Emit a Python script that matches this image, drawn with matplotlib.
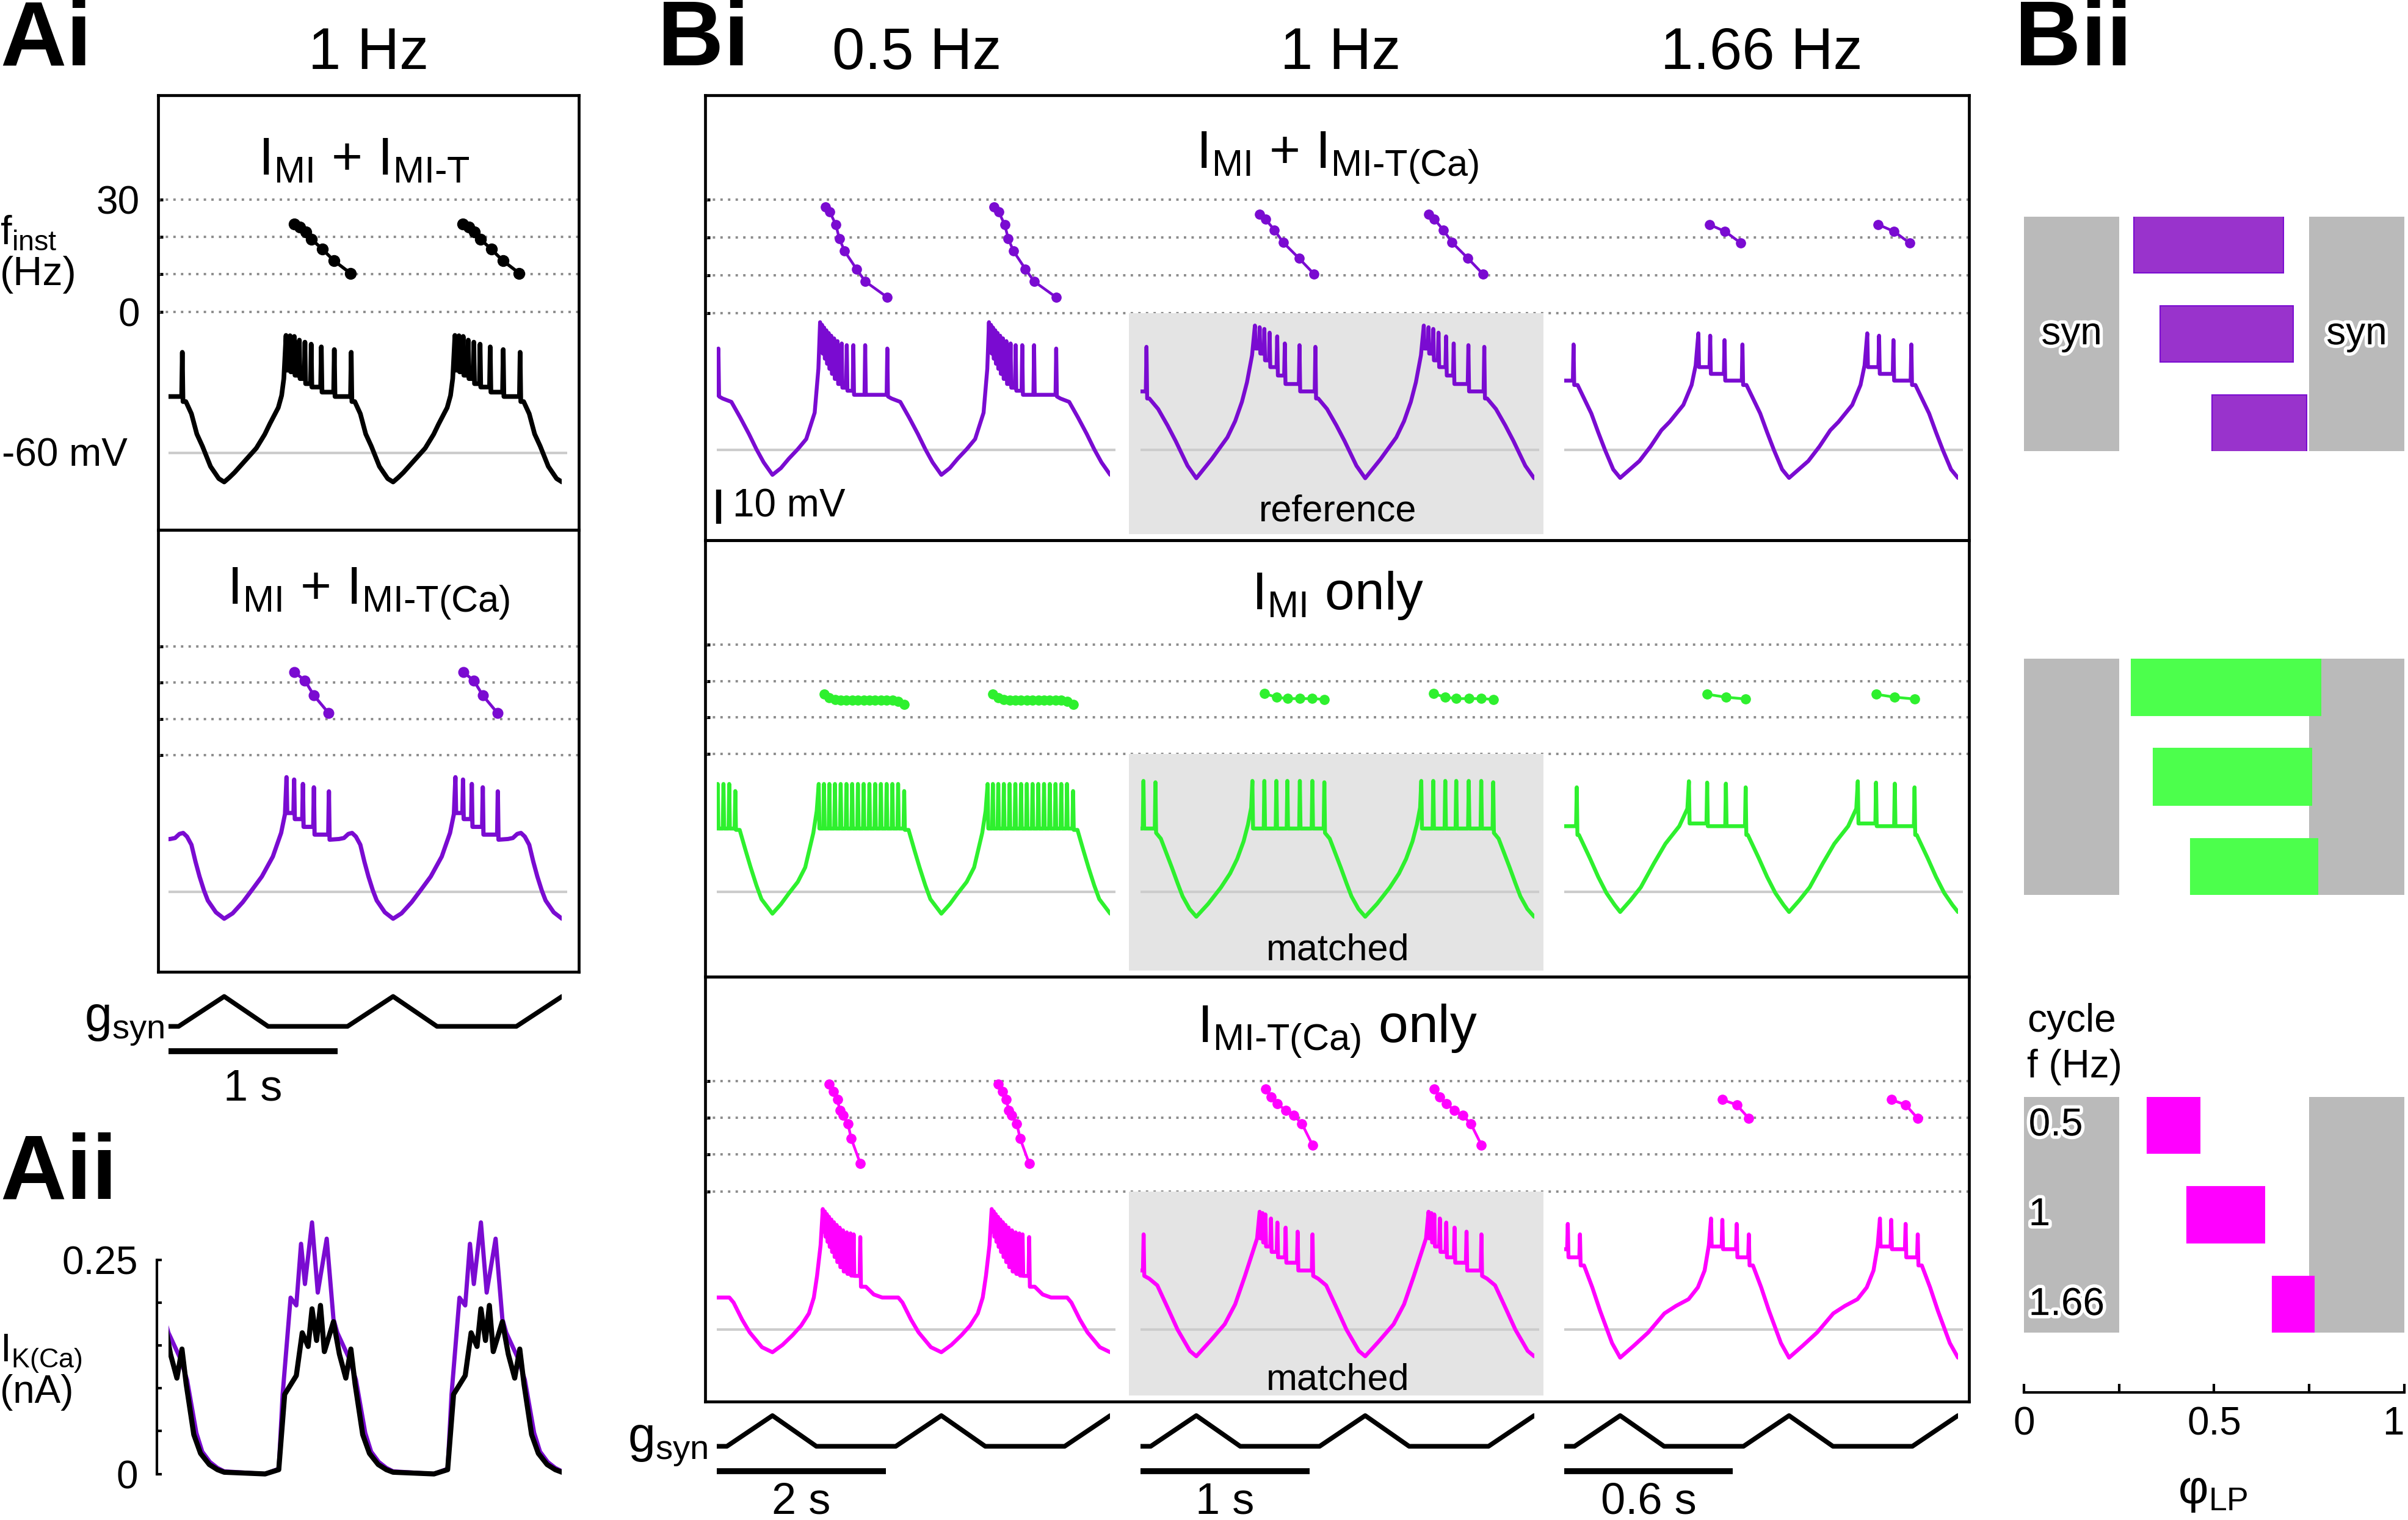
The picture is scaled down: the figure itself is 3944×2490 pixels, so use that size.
#!/usr/bin/env python3
"""LP model bursts: I_MI vs I_MI-T(Ca) at different cycle frequencies."""

import matplotlib
matplotlib.use("Agg")
import matplotlib.pyplot as plt
import matplotlib.patheffects as pe
from matplotlib.patches import Rectangle

plt.rcParams['font.family'] = ['Liberation Sans', 'DejaVu Sans']
plt.rcParams['mathtext.fontset'] = 'custom'
plt.rcParams['mathtext.rm'] = 'Liberation Sans'
plt.rcParams['mathtext.it'] = 'Liberation Sans:italic'
plt.rcParams['mathtext.bf'] = 'Liberation Sans:bold'

# ---------------------------------------------------------------------------
# Data. Phase 0 = voltage trough (= g_syn peak), one
# cycle runs 0..1. Voltage in mV, f_inst in Hz, I_K(Ca) in nA.
# Burst entries are (phase, spike peak, after-hyperpolarisation).
# ---------------------------------------------------------------------------
FREQS = [0.5, 1.0, 1.66]
FREQ_LABELS = ['0.5 Hz', '1 Hz', '1.66 Hz']
SCALE_SEC = [2.0, 1.0, 0.6]
SCALE_LABELS = ['2 s', '1 s', '0.6 s']
F_GRID = [0, 10, 20, 30]

GSYN_CYCLE = [(0.0, 1.0), (0.26, 0.0), (0.73, 0.0)]

# Ai top: I_MI + I_MI-T (black), 1 Hz
AI_T_WAVE = [(0.0, -68.6), (0.03, -67.3), (0.061, -65.8), (0.12, -62.5), (0.19, -58.6),
             (0.24, -54.5), (0.27, -51.4), (0.3, -48.5), (0.32, -46.6), (0.34, -43.0),
             (0.353, -38.0), (0.773, -44.8), (0.806, -48.4), (0.838, -54.4), (0.871, -58.0),
             (0.919, -64.0), (0.968, -67.6)]
AI_T_BURST = [(0.366, -25.2, -35.5), (0.39, -25.3, -36.0), (0.415, -25.5, -37.0),
              (0.445, -26.6, -38.0), (0.478, -27.2, -39.5), (0.515, -27.8, -40.5),
              (0.575, -28.6, -42.0), (0.652, -29.4, -43.3), (0.752, -30.2, -44.8)]
AI_T_FINST = [(0.414, 23.5), (0.448, 22.6), (0.483, 21.4), (0.517, 19.4),
              (0.582, 16.7), (0.651, 13.6), (0.747, 10.3)]

# Ai bottom: I_MI + I_MI-T(Ca) (purple), 1 Hz
AI_CA_WAVE = [(0.0, -67.9), (0.05, -66.3), (0.11, -63.0), (0.17, -59.0), (0.223, -55.4),
              (0.288, -49.5), (0.337, -42.5), (0.36, -36.9), (0.68, -44.3), (0.709, -44.0),
              (0.735, -42.8), (0.757, -42.5), (0.78, -43.6), (0.806, -46.0), (0.83, -51.0),
              (0.854, -55.4), (0.88, -59.5), (0.903, -62.5), (0.951, -66.0)]
AI_CA_BURST = [(0.369, -26.0, -36.6), (0.414, -26.7, -38.4), (0.466, -28.0, -40.7),
               (0.531, -29.0, -43.0), (0.62, -30.2, -44.5)]
AI_CA_FINST = [(0.416, 22.9), (0.478, 20.6), (0.531, 16.5), (0.619, 11.6)]

# Bi row 1: I_MI + I_MI-T(Ca), for 0.5 / 1 / 1.66 Hz
CA_WAVES = [
    [(0.0, -67.4), (0.05, -65.4), (0.097, -62.6), (0.15, -59.8), (0.2, -56.8), (0.25, -49.0),
     (0.272, -36.0), (0.705, -44.8), (0.757, -45.8), (0.81, -50.5), (0.861, -55.3),
     (0.905, -59.8), (0.948, -63.7)],
    [(0.0, -68.4), (0.09, -62.8), (0.184, -56.3), (0.23, -51.5), (0.27, -45.8), (0.3, -40.0),
     (0.33, -32.0), (0.722, -44.8), (0.774, -47.9), (0.83, -52.8), (0.878, -57.4),
     (0.948, -64.7)],
    [(0.0, -68.3), (0.114, -63.3), (0.18, -59.0), (0.244, -54.2), (0.293, -51.7), (0.374, -46.7),
     (0.423, -40.8), (0.447, -35.0), (0.748, -40.8), (0.829, -49.2), (0.87, -54.8),
     (0.91, -60.0), (0.959, -65.8)],
]
CA_BURSTS = [
    [(0.282, -22.2, -30.0), (0.294, -23.0, -31.5), (0.306, -23.8, -33.0), (0.319, -24.6, -34.5),
     (0.333, -25.4, -36.0), (0.348, -26.2, -37.5), (0.365, -27.0, -39.0), (0.385, -27.8, -40.5),
     (0.41, -28.5, -41.6), (0.44, -29.0, -42.5), (0.479, -29.0, -43.7), (0.549, -29.0, -43.7),
     (0.68, -30.0, -44.2)],
    [(0.347, -23.2, -30.0), (0.375, -23.7, -31.5), (0.403, -24.2, -33.5), (0.434, -25.3, -35.5),
     (0.479, -26.4, -38.0), (0.524, -28.5, -40.5), (0.611, -29.0, -42.7), (0.705, -29.5, -44.8)],
    [(0.463, -25.5, -35.5), (0.533, -26.2, -37.5), (0.618, -27.5, -39.5), (0.724, -28.8, -40.8)],
]
CA_FINST = [
    [(0.313, 28.1), (0.34, 26.7), (0.375, 23.4), (0.396, 19.7), (0.427, 16.4),
     (0.497, 11.7), (0.549, 8.4), (0.68, 4.2)],
    [(0.375, 26.2), (0.41, 24.8), (0.462, 22.0), (0.514, 18.7), (0.608, 14.5), (0.698, 10.3)],
    [(0.528, 23.4), (0.621, 21.6), (0.715, 18.5)],
]

# Bi row 2: I_MI only (green)
MI_WAVES = [
    [(0.0, -66.4), (0.05, -63.6), (0.097, -60.4), (0.15, -57.0), (0.194, -52.7), (0.242, -42.5),
     (0.262, -36.0), (0.806, -41.6), (0.84, -47.5), (0.871, -52.7), (0.905, -58.0),
     (0.935, -62.1)],
    [(0.0, -67.3), (0.07, -63.5), (0.145, -58.7), (0.2, -54.5), (0.242, -50.2), (0.28, -45.0),
     (0.306, -40.0), (0.325, -35.0), (0.79, -44.2), (0.825, -48.8), (0.855, -52.7),
     (0.89, -57.5), (0.919, -61.3), (0.96, -65.0)],
    [(0.0, -65.9), (0.06, -62.5), (0.122, -58.6), (0.2, -51.5), (0.268, -45.7), (0.35, -40.5),
     (0.398, -35.3), (0.756, -43.1), (0.821, -50.0), (0.87, -55.5), (0.919, -60.3),
     (0.967, -63.8)],
]
MI_BURSTS = [
    [(0.274, -28.0, -41.2), (0.305, -28.0, -41.2), (0.337, -28.0, -41.2), (0.37, -28.0, -41.2),
     (0.404, -28.0, -41.2), (0.438, -28.0, -41.2), (0.472, -28.0, -41.2), (0.506, -28.0, -41.2),
     (0.54, -28.0, -41.2), (0.574, -28.0, -41.2), (0.608, -28.0, -41.2), (0.642, -28.0, -41.2),
     (0.676, -28.0, -41.2), (0.71, -28.0, -41.2), (0.744, -28.0, -41.2), (0.78, -30.1, -41.6)],
    [(0.332, -27.1, -41.2), (0.403, -27.1, -41.2), (0.474, -27.1, -41.2), (0.539, -27.1, -41.2),
     (0.613, -27.1, -41.2), (0.687, -27.1, -41.2), (0.758, -27.5, -42.5)],
    [(0.407, -27.2, -39.7), (0.515, -27.6, -40.5), (0.626, -27.9, -40.5), (0.743, -29.0, -43.1)],
]
MI_FINST = [
    [(0.305, 16.4), (0.337, 15.4), (0.37, 15.0), (0.404, 14.8), (0.438, 14.7), (0.472, 14.7),
     (0.506, 14.7), (0.54, 14.7), (0.574, 14.7), (0.608, 14.7), (0.642, 14.7), (0.676, 14.7),
     (0.71, 14.7), (0.744, 14.5), (0.78, 13.6)],
    [(0.403, 16.6), (0.474, 15.6), (0.539, 15.2), (0.613, 15.2), (0.687, 15.2), (0.758, 15.0)],
    [(0.515, 16.4), (0.626, 15.6), (0.743, 15.1)],
]

# Bi row 3: I_MI-T(Ca) only (magenta)
T_WAVES = [
    [(0.0, -66.7), (0.06, -64.5), (0.12, -61.6), (0.17, -58.8), (0.216, -55.2), (0.245, -50.5),
     (0.264, -44.1), (0.285, -35.0), (0.553, -47.3), (0.6, -49.6), (0.65, -50.5),
     (0.745, -50.5), (0.77, -52.0), (0.82, -57.0), (0.865, -60.8), (0.938, -65.2)],
    [(0.0, -67.9), (0.08, -63.5), (0.168, -58.4), (0.23, -52.5), (0.288, -44.1), (0.36, -33.0),
     (0.721, -44.9), (0.769, -46.9), (0.83, -53.5), (0.889, -60.0), (0.962, -66.3)],
    [(0.0, -68.3), (0.08, -64.8), (0.167, -60.8), (0.262, -55.2), (0.33, -53.0), (0.405, -51.0),
     (0.46, -47.5), (0.5, -42.5), (0.525, -35.0), (0.786, -41.0), (0.835, -47.5),
     (0.881, -54.4), (0.952, -64.0)],
]
T_BURSTS = [
    [(0.298, -24.3, -31.0), (0.31, -25.0, -32.5), (0.322, -25.8, -34.0), (0.335, -26.6, -35.5),
     (0.349, -27.4, -37.0), (0.364, -28.2, -38.5), (0.38, -29.0, -40.0), (0.398, -29.8, -41.5),
     (0.418, -30.6, -42.8), (0.44, -31.2, -43.5), (0.462, -31.5, -44.0), (0.481, -31.8, -44.1),
     (0.52, -32.6, -47.3)],
    [(0.375, -25.1, -33.0), (0.392, -25.5, -34.2), (0.409, -25.9, -35.4), (0.442, -27.1, -37.0),
     (0.48, -28.3, -38.6), (0.529, -29.8, -40.2), (0.6, -31.0, -42.5), (0.688, -31.8, -44.1)],
    [(0.538, -27.1, -35.4), (0.605, -27.5, -36.2), (0.69, -28.7, -38.6), (0.762, -31.8, -41.0)],
]
T_FINST = [
    [(0.337, 29.1), (0.361, 27.1), (0.385, 24.9), (0.399, 22.0), (0.418, 20.6),
     (0.447, 18.4), (0.466, 14.4), (0.52, 7.6)],
    [(0.409, 27.8), (0.442, 25.6), (0.48, 23.8), (0.529, 22.0), (0.577, 20.6),
     (0.625, 18.4), (0.688, 12.6)],
    [(0.605, 24.9), (0.69, 23.5), (0.762, 19.8)],
]

# Aii: I_K(Ca) over one cycle
AII_CA = [(0.0, 0.003), (0.242, 0.0), (0.323, 0.006), (0.346, 0.093), (0.393, 0.206),
          (0.427, 0.197), (0.455, 0.269), (0.478, 0.222), (0.52, 0.294), (0.554, 0.212),
          (0.607, 0.275), (0.647, 0.181), (0.67, 0.165), (0.74, 0.135), (0.78, 0.11),
          (0.835, 0.048), (0.87, 0.026), (0.915, 0.014), (0.96, 0.007)]
AII_T = [(0.0, 0.002), (0.242, 0.0), (0.323, 0.005), (0.358, 0.093), (0.427, 0.115),
         (0.462, 0.165), (0.497, 0.149), (0.52, 0.193), (0.547, 0.156), (0.57, 0.197),
         (0.593, 0.143), (0.647, 0.178), (0.682, 0.14), (0.72, 0.112), (0.75, 0.146),
         (0.775, 0.105), (0.82, 0.046), (0.86, 0.024), (0.912, 0.011), (0.96, 0.005)]

# Bii: burst phase (start, end) for 0.5 / 1 / 1.66 Hz
SYN_ON = [(0.0, 0.25), (0.75, 1.0)]
BII_CA = [(0.289, 0.682), (0.358, 0.708), (0.494, 0.743)]
BII_MI = [(0.283, 0.781), (0.341, 0.756), (0.438, 0.772)]
BII_T = [(0.325, 0.463), (0.428, 0.632), (0.653, 0.762)]
BII_FREQ_LABELS = ['0.5', '1', '1.66']

# ---------------------------------------------------------------------------
# colours / layout (layout in 1568 x 990 reference units)
# ---------------------------------------------------------------------------
PURPLE = '#7a0bd1'
GREEN = '#2ef02e'
MAGENTA = '#ff00ff'
SHADE = '#e4e4e4'
SYN_GRAY = '#bababa'
BAR_PURPLE = '#9933cc'
BAR_GREEN = '#4cff4c'
DOT_GRID = '#8c8c8c'
BASE_GRAY = '#cccccc'

W, H = 1568.0, 990.0
COL_W = 270
X_LO, X_HI = -0.4, 2.055
T_START, T_END = -0.33, 2.0
PX_PER_MV = 2.2
SPIKE_HW = 0.004

fig = plt.figure(figsize=(39.44, 24.90), dpi=100)


def ax_at(x0, y0, x1, y1):
    return fig.add_axes([x0 / W, 1 - y1 / H, (x1 - x0) / W, (y1 - y0) / H])


def label(x, y, s, size, **kw):
    kw.setdefault('ha', 'center')
    kw.setdefault('va', 'center')
    return fig.text(x / W, 1 - y / H, s, fontsize=size, **kw)


def bare(ax, face='none'):
    ax.set_facecolor(face)
    ax.set_xticks([])
    ax.set_yticks([])
    for s in ax.spines.values():
        s.set_visible(False)


def tiled(cycle, ks=(-1, 0, 1, 2)):
    pts = sorted((p + k, v) for k in ks for p, v in cycle)
    return [p for p, _ in pts], [v for _, v in pts]


def cycle_vertices(wave, burst):
    pts = list(wave)
    for i, (p, peak, ahp) in enumerate(burst):
        if i:
            pts.append((p - SPIKE_HW, burst[i - 1][2]))
        pts.append((p, peak))
        pts.append((p + SPIKE_HW, ahp))
    return pts


def clip_to_trace(ax, artist):
    artist.set_clip_path(Rectangle((T_START, -1e3), T_END - T_START, 2e3,
                                   transform=ax.transData))


def draw_cell(x0, f30, f0, base, bottom, wave, burst, finst, color, lw, ms, shade=False):
    axf = ax_at(x0, f30, x0 + COL_W, f0)
    bare(axf)
    axf.set_xlim(X_LO, X_HI)
    axf.set_ylim(0, 30)
    for k in (0, 1):
        axf.plot([p + k for p, _ in finst], [f for _, f in finst], '-o', color=color,
                 lw=lw * 0.7, ms=ms, clip_on=False, zorder=3)
    y_bot = bottom - 4
    axv = ax_at(x0, f0, x0 + COL_W, y_bot)
    bare(axv, SHADE if shade else 'none')
    axv.set_xlim(X_LO, X_HI)
    axv.set_ylim(-60 - (y_bot - base) / PX_PER_MV, -60 + (base - f0) / PX_PER_MV)
    axv.hlines(-60, T_START, T_END + 0.03, color=BASE_GRAY, lw=3, zorder=1)
    x, y = tiled(cycle_vertices(wave, burst))
    line, = axv.plot(x, y, color=color, lw=lw, zorder=3)
    clip_to_trace(axv, line)
    return axv


def draw_grid(x0, x1, f30, f0, labels=False):
    ax = ax_at(x0, f30, x1, f0)
    ax.set_facecolor('none')
    for s in ax.spines.values():
        s.set_visible(False)
    ax.set_xlim(0, 1)
    ax.set_ylim(0, 30)
    ax.set_xticks([])
    ax.set_yticks(F_GRID)
    ax.set_yticklabels(['0', '', '', '30'] if labels else ['', '', '', ''])
    ax.tick_params(axis='y', direction='in', length=6, width=3.5, labelsize=46, pad=22)
    for f in F_GRID:
        ax.axhline(f, color=DOT_GRID, lw=2.8, ls=(0, (1, 2.2)), clip_on=False)


def draw_frame(x0, x1, top, bottom):
    ax = ax_at(x0, top, x1, bottom)
    ax.set_facecolor('none')
    ax.set_xticks([])
    ax.set_yticks([])
    for s in ax.spines.values():
        s.set_linewidth(3.4)


def draw_gsyn(x0, y_peak, y_low, bar_len, bar_y, text_y, text, text_va):
    ax = ax_at(x0, y_peak, x0 + COL_W, y_low)
    bare(ax)
    ax.set_xlim(X_LO, X_HI)
    ax.set_ylim(0, 1)
    x, y = tiled(GSYN_CYCLE)
    line, = ax.plot(x, y, color='black', lw=5.5)
    clip_to_trace(ax, line)
    ax.plot([T_START, T_START + bar_len], [bar_y, bar_y], color='black', lw=7,
            solid_capstyle='butt', clip_on=False)
    ax.text(T_START + bar_len / 2, text_y, text, ha='center', va=text_va, fontsize=52)


TITLE_T = r'$\mathrm{I_{MI}}$ + $\mathrm{I_{MI‐T}}$'
TITLE_CA = r'$\mathrm{I_{MI}}$ + $\mathrm{I_{MI‐T(Ca)}}$'
TITLE_MI = r'$\mathrm{I_{MI}}$ only'
TITLE_TO = r'$\mathrm{I_{MI‐T(Ca)}}$ only'

# ---------------------------------------------------------------------------
# Ai
# ---------------------------------------------------------------------------
AI_LEFT = 102
AI_TOP, AI_BOT = [62, 345], [345, 633]
AI_F30, AI_F0, AI_BASE = [130, 421], [203, 492], [295, 581]

draw_grid(103, 377, AI_F30[0], AI_F0[0], labels=True)
draw_grid(103, 377, AI_F30[1], AI_F0[1])
draw_cell(AI_LEFT, AI_F30[0], AI_F0[0], AI_BASE[0], AI_BOT[0],
          AI_T_WAVE, AI_T_BURST, AI_T_FINST, 'black', 5.5, 13)
draw_cell(AI_LEFT, AI_F30[1], AI_F0[1], AI_BASE[1], AI_BOT[1],
          AI_CA_WAVE, AI_CA_BURST, AI_CA_FINST, PURPLE, 5.0, 12)
draw_gsyn(AI_LEFT, 649, 668.5, SCALE_SEC[1] * FREQS[1], -0.83, -1.4, '1 s', 'top')

label(0, 27, 'Ai', 108, ha='left', weight='bold')
label(240, 35, '1 Hz', 69)
label(237, 105, TITLE_T, 63)
label(240, 387, TITLE_CA, 63)
label(0, 152, r'$\mathrm{f_{inst}}$', 48, ha='left')
label(0, 179, '(Hz)', 48, ha='left')
label(83, 297, '-60 mV', 46, ha='right')
label(107, 672, r'$\mathrm{g_{syn}}$', 58, ha='right', va='baseline')

# ---------------------------------------------------------------------------
# Aii
# ---------------------------------------------------------------------------
ax2 = ax_at(AI_LEFT, 820.7, AI_LEFT + COL_W, 960)
ax2.set_facecolor('none')
ax2.set_xlim(X_LO, X_HI)
ax2.set_ylim(0, 0.25)
for s in ['top', 'right', 'bottom']:
    ax2.spines[s].set_visible(False)
ax2.spines['left'].set_linewidth(3)
ax2.set_xticks([])
ax2.set_yticks([0, 0.05, 0.1, 0.15, 0.2, 0.25])
ax2.set_yticklabels(['0', '', '', '', '', '0.25'])
ax2.tick_params(axis='y', direction='in', length=6, width=3, labelsize=46, pad=22)
for cyc, col, lw in ((AII_CA, PURPLE, 5.0), (AII_T, 'black', 6.0)):
    x, y = tiled(cyc)
    ln, = ax2.plot(x, y, color=col, lw=lw)
    clip_to_trace(ax2, ln)

label(0, 765, 'Aii', 108, ha='left', weight='bold')
label(0, 882, r'$\mathrm{I_{K(Ca)}}$', 46, ha='left')
label(0, 907, '(nA)', 46, ha='left')

# ---------------------------------------------------------------------------
# Bi
# ---------------------------------------------------------------------------
COL_LEFT = [459, 735, 1011]
BI_TOP, BI_BOT = [62, 352, 636], [352, 636, 913]
BI_F30, BI_F0, BI_BASE = [130, 420, 704], [204, 491, 776], [293, 581, 866]
ROWS = [(CA_WAVES, CA_BURSTS, CA_FINST, PURPLE),
        (MI_WAVES, MI_BURSTS, MI_FINST, GREEN),
        (T_WAVES, T_BURSTS, T_FINST, MAGENTA)]

for r, (waves, bursts, finsts, col) in enumerate(ROWS):
    draw_grid(459, 1282, BI_F30[r], BI_F0[r])
    for c in range(3):
        axv = draw_cell(COL_LEFT[c], BI_F30[r], BI_F0[r], BI_BASE[r], BI_BOT[r],
                        waves[c], bursts[c], finsts[c], col, 4.6, 11, shade=(c == 1))
        if r == 0 and c == 0:
            v0 = -60 - (319 - BI_BASE[0]) / PX_PER_MV
            axv.plot([-0.32, -0.32], [v0, v0 - 10], color='black', lw=6,
                     solid_capstyle='butt', clip_on=False)

for c in range(3):
    draw_gsyn(COL_LEFT[c], 922, 942, SCALE_SEC[c] * FREQS[c], -0.8, -2.2,
              SCALE_LABELS[c], 'baseline')

label(428, 27, 'Bi', 108, ha='left', weight='bold')
for c, txt in enumerate(FREQ_LABELS):
    label([597, 873, 1147][c], 35, txt, 69)
label(871, 103, TITLE_CA, 63)
label(871, 388, TITLE_MI, 63)
label(871, 672, TITLE_TO, 63)
label(871, 333, 'reference', 44)
label(871, 619, 'matched', 44)
label(871, 899, 'matched', 44)
label(477, 330, '10 mV', 46, ha='left')
label(461, 946, r'$\mathrm{g_{syn}}$', 58, ha='right', va='baseline')

# ---------------------------------------------------------------------------
# Bii
# ---------------------------------------------------------------------------
halo = [pe.withStroke(linewidth=8, foreground='white')]
BII_ROWS_Y = [(141, 294), (429, 583), (714.5, 868)]
for i, ((y0, y1), bars, col, ec) in enumerate(zip(
        BII_ROWS_Y, (BII_CA, BII_MI, BII_T),
        (BAR_PURPLE, BAR_GREEN, MAGENTA), (PURPLE, BAR_GREEN, MAGENTA))):
    ax = ax_at(1318, y0, 1565.5, y1)
    bare(ax)
    ax.set_xlim(0, 1)
    ax.set_ylim(2.313, -0.313)
    for a, b in SYN_ON:
        ax.axvspan(a, b, color=SYN_GRAY, lw=0, zorder=1)
    ax.barh(range(3), [e - s for s, e in bars], left=[s for s, e in bars], height=0.63,
            color=col, edgecolor=ec, lw=1.5, zorder=2)
    if i == 0:
        for xc in (0.125, 0.875):
            ax.text(xc, 1, 'syn', ha='center', va='center', fontsize=46, path_effects=halo,
                    zorder=3)
    if i == 2:
        for k, lab in enumerate(BII_FREQ_LABELS):
            ax.text(0.012, k, lab, ha='left', va='center', fontsize=46, path_effects=halo,
                    zorder=3)

axx = ax_at(1318, 905, 1565.5, 907)
axx.set_facecolor('none')
for s in ['top', 'left', 'right']:
    axx.spines[s].set_visible(False)
axx.spines['bottom'].set_linewidth(3)
axx.set_xlim(0, 1)
axx.set_yticks([])
axx.set_xticks([0, 0.25, 0.5, 0.75, 1])
axx.set_xticklabels(['0', '', '0.5', '', '1'])
axx.tick_params(axis='x', direction='in', length=10, width=3, labelsize=46, pad=16)
axx.get_xticklabels()[-1].set_horizontalalignment('right')

label(1312, 27, 'Bii', 108, ha='left', weight='bold')
label(1320, 665, 'cycle', 46, ha='left')
label(1320, 695, 'f (Hz)', 46, ha='left')
label(1441, 972, r'$\mathrm{φ_{LP}}$', 55)

# frames on top
for r in range(2):
    draw_frame(103, 377, AI_TOP[r], AI_BOT[r])
for r in range(3):
    draw_frame(459, 1282, BI_TOP[r], BI_BOT[r])

fig.savefig('out.png', dpi=100)
